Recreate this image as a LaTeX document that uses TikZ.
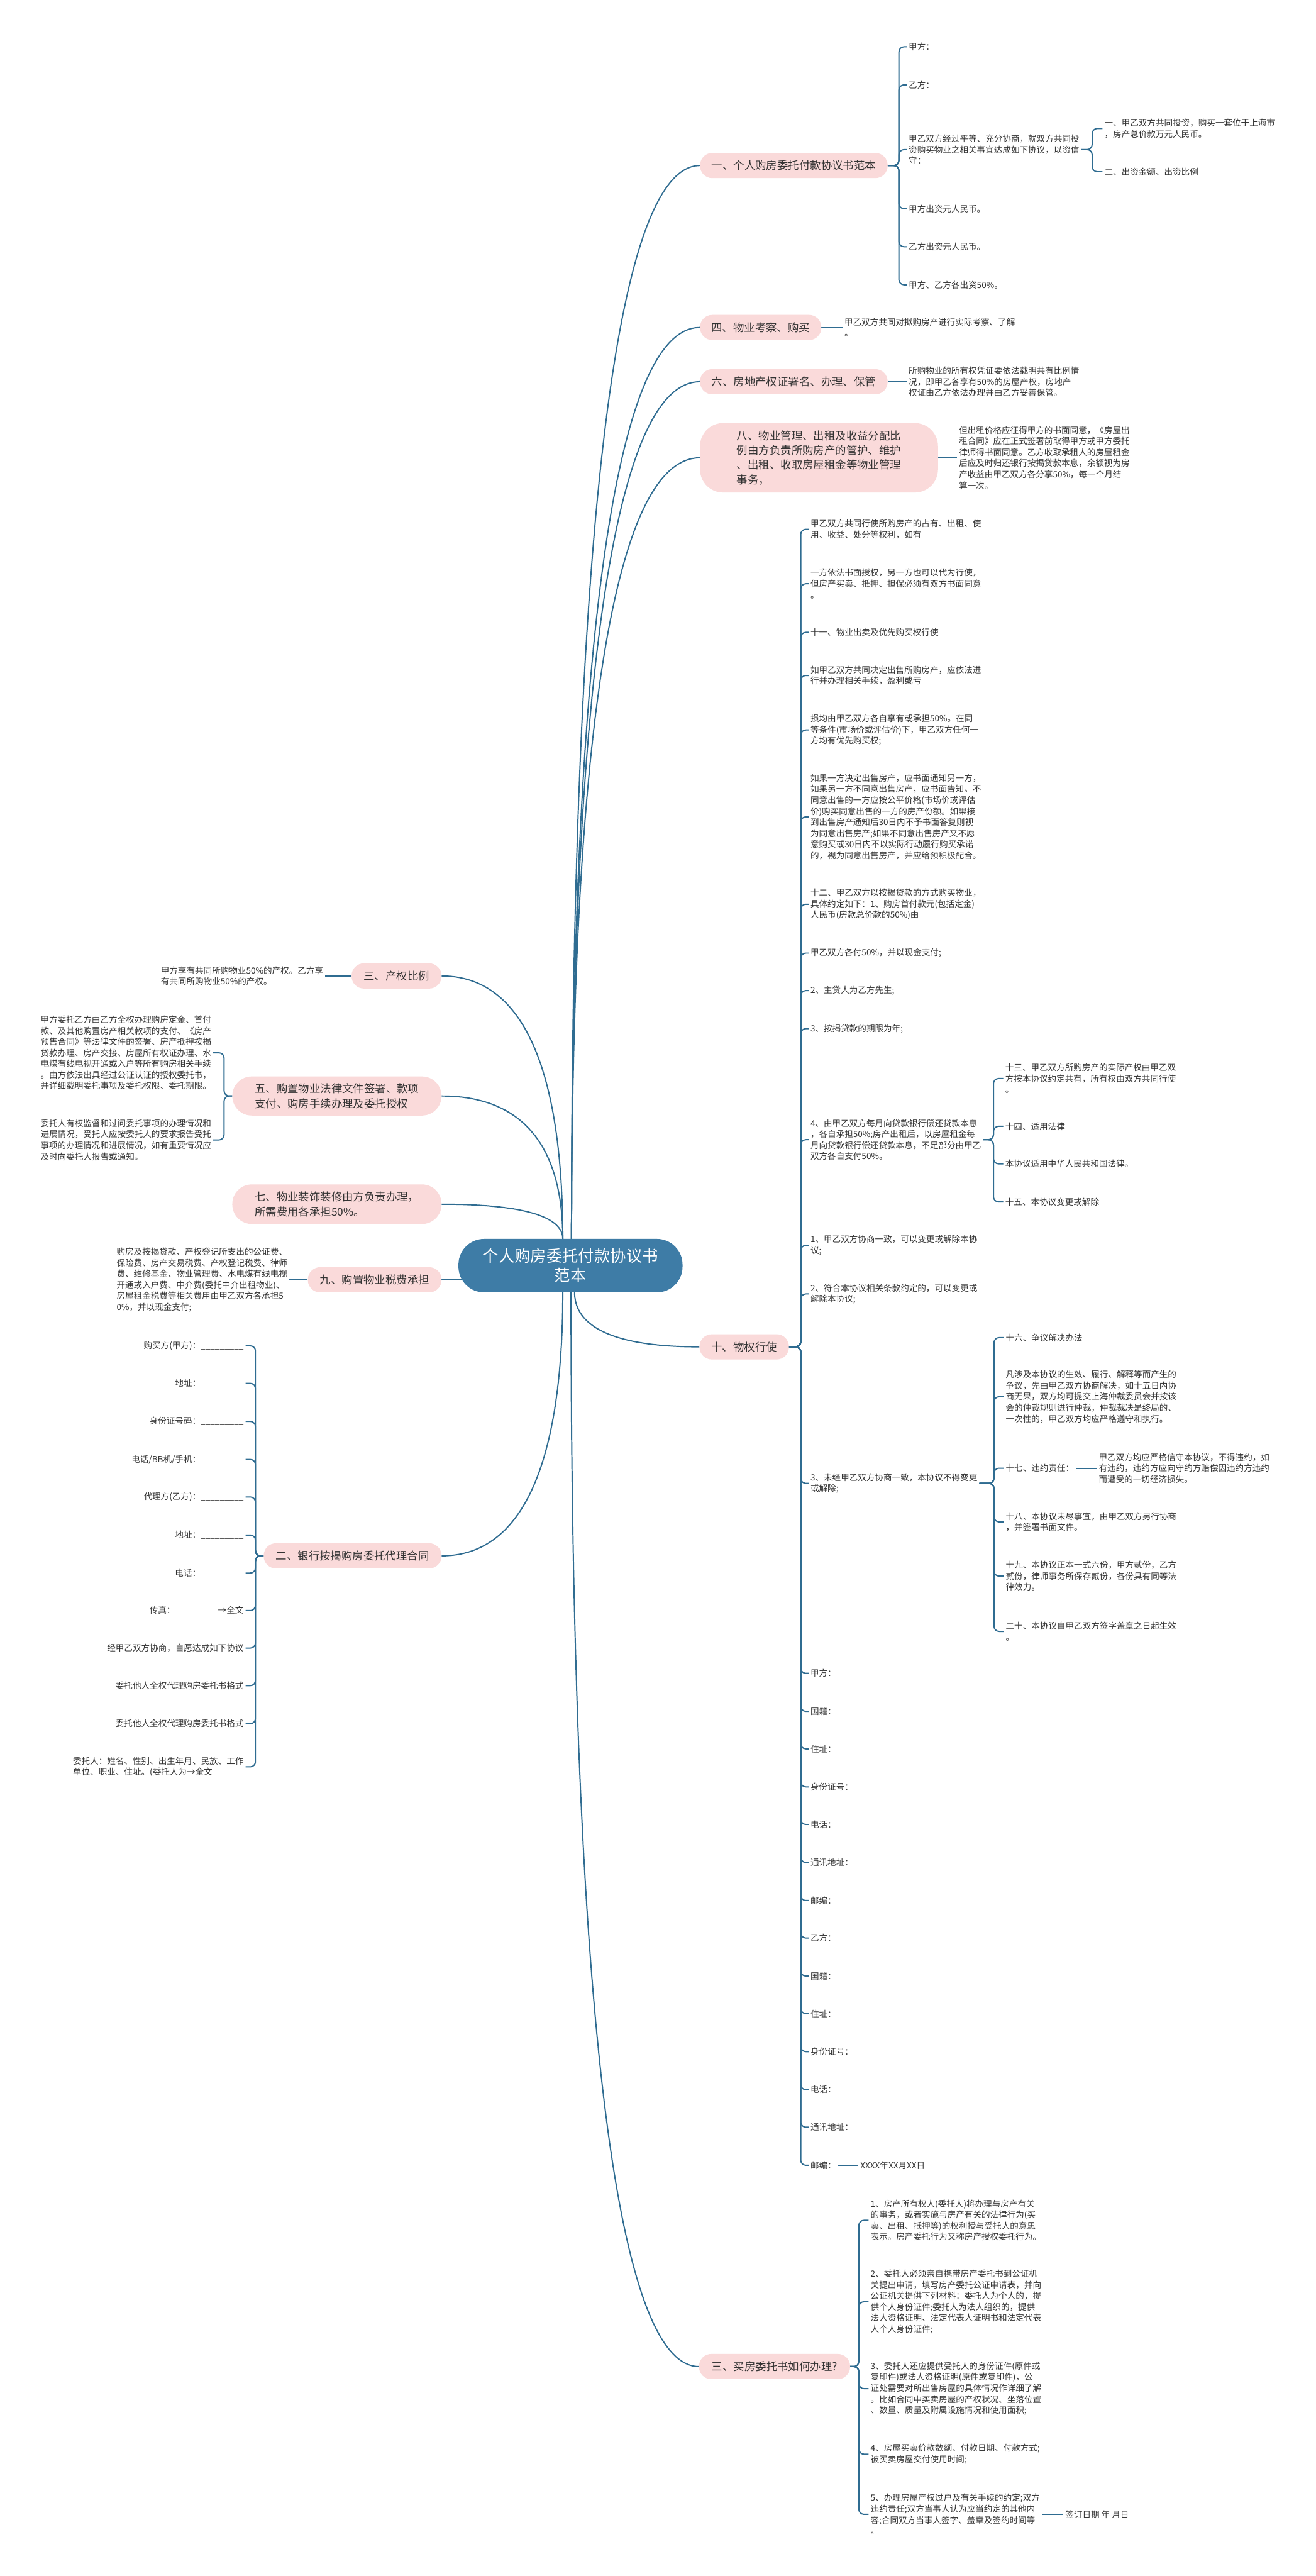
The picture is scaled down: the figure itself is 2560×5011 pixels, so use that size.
\documentclass[tikz,border=0pt]{standalone}
\usepackage{fontspec}
\setmainfont{Noto Sans CJK SC}
\usetikzlibrary{calc}
\pgfdeclarelayer{bg}
\pgfsetlayers{bg,main}
\definecolor{lnc}{HTML}{2F6C91}
\definecolor{cenc}{HTML}{3E7CA6}
\definecolor{pinkc}{HTML}{FADADA}
\definecolor{txtc}{HTML}{333333}
\newcommand\leaffont{\fontsize{16.6pt}{21.5pt}\selectfont}
\newcommand\brfont{\fontsize{21.3pt}{28.5pt}\selectfont}
\newcommand\cenfont{\fontsize{31pt}{37pt}\selectfont}
\newcommand\brR[3]{\draw[conn] (#1.east) -- (#1.east -| #3) |- (#2.west);}
\newcommand\brL[3]{\draw[conn] (#1.west) -- (#1.west -| #3) |- (#2.east);}
\newcommand\strR[2]{\draw[conn] (#1.east) -- (#2.west);}
\newcommand\strL[2]{\draw[conn] (#1.west) -- (#2.east);}
\newcommand\mmcurve[2]{\draw[conn] (#1) .. controls ($(#1)!0.5!(#1|-#2)$) and ($(#1|-#2)!0.2!(#2)$) .. (#2);}
\begin{document}
\begin{tikzpicture}[x=1pt,y=-1pt,
  conn/.style={draw=lnc, line width=2.4pt, rounded corners=10pt},
  leaf/.style={inner sep=0pt, outer sep=4pt, align=left, font=\leaffont, text=txtc},
  branch/.style={fill=pinkc, text=txtc, font=\brfont, inner sep=0pt, minimum height=49pt, rounded corners=24pt, align=center},
  central/.style={fill=cenc, text=white, font=\cenfont, inner sep=0pt, minimum width=436pt, minimum height=104pt, rounded corners=50pt, align=center}]
\begin{pgfonlayer}{bg}
\fill[white] (0,0) rectangle (2560,5011);
\end{pgfonlayer}
\useasboundingbox (0,0) rectangle (2560,5011);

% central
\node[central] (c) at (1110,2462) {个人购房委托付款协议书\\范本};

% right branches
\node[branch, minimum width=365pt] (b1) at (1544.5,322) {一、个人购房委托付款协议书范本};
\node[branch, minimum width=236pt] (b4) at (1480,637) {四、物业考察、购买};
\node[branch, minimum width=365pt] (b6) at (1544.5,742.5) {六、房地产权证署名、办理、保管};
\node[branch, minimum width=463pt, minimum height=135pt, rounded corners=45pt, align=left] (b8) at (1593.5,890.5) {八、物业管理、出租及收益分配比\\例由方负责所购房产的管护、维护\\、出租、收取房屋租金等物业管理\\事务，};
\node[branch, minimum width=174pt] (b10) at (1448,2620) {十、物权行使};
\node[branch, minimum width=294pt] (b3r) at (1507,4603.5) {三、买房委托书如何办理?};

% left branches
\node[branch, minimum width=175pt] (b3) at (771.5,1898.5) {三、产权比例};
\node[branch, minimum width=407pt, minimum height=76pt, rounded corners=38pt, align=left] (b5) at (655.5,2132) {五、购置物业法律文件签署、款项\\支付、购房手续办理及委托授权};
\node[branch, minimum width=407pt, minimum height=77pt, rounded corners=38pt, align=left] (b7) at (655.5,2342.5) {七、物业装饰装修由方负责办理，\\所需费用各承担50\%。};
\node[branch, minimum width=260pt] (b9) at (729,2489.5) {九、购置物业税费承担};
\node[branch, minimum width=346pt] (b2) at (686,3026.5) {二、银行按揭购房委托代理合同};

% bracket coordinates
\coordinate (k1) at (1749,0);
\coordinate (k1c) at (2125,0);
\coordinate (k10) at (1558,0);
\coordinate (k11) at (1933,0);
\coordinate (k14) at (1934,0);
\coordinate (k3r) at (1671,0);
\coordinate (k5) at (436,0);
\coordinate (k2) at (497,0);

% ---- leaves of 一
\node[leaf, anchor=west] (a1) at (1764,91) {甲方：};
\node[leaf, anchor=west] (a2) at (1764,165) {乙方：};
\node[leaf, anchor=west] (a3) at (1764,291) {甲乙双方经过平等、充分协商，就双方共同投\\资购买物业之相关事宜达成如下协议，以资信\\守：};
\node[leaf, anchor=west] (a4) at (1764,406) {甲方出资元人民币。};
\node[leaf, anchor=west] (a5) at (1764,480) {乙方出资元人民币。};
\node[leaf, anchor=west] (a6) at (1764,554) {甲方、乙方各出资50\%。};
\node[leaf, anchor=west] (a31) at (2145,250) {一、甲乙双方共同投资，购买一套位于上海市\\，房产总价款万元人民币。};
\node[leaf, anchor=west] (a32) at (2145,334) {二、出资金额、出资比例};

% ---- leaves of 四 六 八
\node[leaf, anchor=west] (d1) at (1639,637) {甲乙双方共同对拟购房产进行实际考察、了解\\。};
\node[leaf, anchor=west] (f1) at (1764,742.5) {所购物业的所有权凭证要依法载明共有比例情\\况，即甲乙各享有50\%的房屋产权，房地产\\权证由乙方依法办理并由乙方妥善保管。};
\node[leaf, anchor=west] (h1) at (1862,890.5) {但出租价格应征得甲方的书面同意，《房屋出\\租合同》应在正式签署前取得甲方或甲方委托\\律师得书面同意。乙方收取承租人的房屋租金\\后应及时归还银行按揭贷款本息，余额视为房\\产收益由甲乙双方各分享50\%，每一个月结\\算一次。};

% ---- leaves of 十
\node[leaf, anchor=west] (t1) at (1573,1029.5) {甲乙双方共同行使所购房产的占有、出租、使\\用、收益、处分等权利，如有};
\node[leaf, anchor=west] (t2) at (1573,1135.5) {一方依法书面授权，另一方也可以代为行使，\\但房产买卖、抵押、担保必须有双方书面同意\\。};
\node[leaf, anchor=west] (t3) at (1573,1230) {十一、物业出卖及优先购买权行使};
\node[leaf, anchor=west] (t4) at (1573,1314) {如甲乙双方共同决定出售所购房产，应依法进\\行并办理相关手续，盈利或亏};
\node[leaf, anchor=west] (t5) at (1573,1420) {损均由甲乙双方各自享有或承担50\%。在同\\等条件(市场价或评估价)下，甲乙双方任何一\\方均有优先购买权;};
\node[leaf, anchor=west] (t6) at (1573,1589) {如果一方决定出售房产，应书面通知另一方，\\如果另一方不同意出售房产，应书面告知。不\\同意出售的一方应按公平价格(市场价或评估\\价)购买同意出售的一方的房产份额。如果接\\到出售房产通知后30日内不予书面答复则视\\为同意出售房产;如果不同意出售房产又不愿\\意购买或30日内不以实际行动履行购买承诺\\的，视为同意出售房产，并应给预积极配合。};
\node[leaf, anchor=west] (t7) at (1573,1759) {十二、甲乙双方以按揭贷款的方式购买物业，\\具体约定如下：1、购房首付款元(包括定金)\\人民币(房款总价款的50\%)由};
\node[leaf, anchor=west] (t8) at (1573,1854) {甲乙双方各付50\%，并以现金支付;};
\node[leaf, anchor=west] (t9) at (1573,1927) {2、主贷人为乙方先生;};
\node[leaf, anchor=west] (t10) at (1573,2001) {3、按揭贷款的期限为年;};
\node[leaf, anchor=west] (t11) at (1573,2217) {4、由甲乙双方每月向贷款银行偿还贷款本息\\，各自承担50\%;房产出租后，以房屋租金每\\月向贷款银行偿还贷款本息，不足部分由甲乙\\双方各自支付50\%。};
\node[leaf, anchor=west] (t12) at (1573,2422.5) {1、甲乙双方协商一致，可以变更或解除本协\\议;};
\node[leaf, anchor=west] (t13) at (1573,2517) {2、符合本协议相关条款约定的，可以变更或\\解除本协议;};
\node[leaf, anchor=west] (t14) at (1573,2885.5) {3、未经甲乙双方协商一致，本协议不得变更\\或解除;};
\node[leaf, anchor=west] (t15) at (1573,3255) {甲方：};
\node[leaf, anchor=west] (t16) at (1573,3329) {国籍：};
\node[leaf, anchor=west] (t17) at (1573,3402) {住址：};
\node[leaf, anchor=west] (t18) at (1573,3476) {身份证号：};
\node[leaf, anchor=west] (t19) at (1573,3549) {电话：};
\node[leaf, anchor=west] (t20) at (1573,3623) {通讯地址：};
\node[leaf, anchor=west] (t21) at (1573,3697) {邮编：};
\node[leaf, anchor=west] (t22) at (1573,3770) {乙方：};
\node[leaf, anchor=west] (t23) at (1573,3844) {国籍：};
\node[leaf, anchor=west] (t24) at (1573,3917) {住址：};
\node[leaf, anchor=west] (t25) at (1573,3991) {身份证号：};
\node[leaf, anchor=west] (t26) at (1573,4065) {电话：};
\node[leaf, anchor=west] (t27) at (1573,4138) {通讯地址：};
\node[leaf, anchor=west] (t28) at (1573,4212) {邮编：};
\node[leaf, anchor=west] (t28a) at (1670,4212) {XXXX年XX月XX日};

% children of t11
\node[leaf, anchor=west] (u1) at (1952,2098) {十三、甲乙双方所购房产的实际产权由甲乙双\\方按本协议约定共有，所有权由双方共同行使\\。};
\node[leaf, anchor=west] (u2) at (1952,2191) {十四、适用法律};
\node[leaf, anchor=west] (u3) at (1952,2264) {本协议适用中华人民共和国法律。};
\node[leaf, anchor=west] (u4) at (1952,2338) {十五、本协议变更或解除};

% children of t14
\node[leaf, anchor=west] (v1) at (1953,2602) {十六、争议解决办法};
\node[leaf, anchor=west] (v2) at (1953,2717) {凡涉及本协议的生效、履行、解释等而产生的\\争议，先由甲乙双方协商解决，如十五日内协\\商无果，双方均可提交上海仲裁委员会并按该\\会的仲裁规则进行仲裁，仲裁裁决是终局的、\\一次性的，甲乙双方均应严格遵守和执行。};
\node[leaf, anchor=west] (v3) at (1953,2856) {十七、违约责任：};
\node[leaf, anchor=west] (v3a) at (2134,2856) {甲乙双方均应严格信守本协议，不得违约，如\\有违约，违约方应向守约方赔偿因违约方违约\\而遭受的一切经济损失。};
\node[leaf, anchor=west] (v4) at (1953,2960.5) {十八、本协议未尽事宜，由甲乙双方另行协商\\，并签署书面文件。};
\node[leaf, anchor=west] (v5) at (1953,3066) {十九、本协议正本一式六份，甲方贰份，乙方\\贰份，律师事务所保存贰份，各份具有同等法\\律效力。};
\node[leaf, anchor=west] (v6) at (1953,3173.5) {二十、本协议自甲乙双方签字盖章之日起生效\\。};

% ---- leaves of 三、买房委托书如何办理
\node[leaf, anchor=west] (r1) at (1690,4319) {1、房产所有权人(委托人)将办理与房产有关\\的事务，或者实施与房产有关的法律行为(买\\卖、出租、抵押等)的权利授与受托人的意思\\表示。房产委托行为又称房产授权委托行为。};
\node[leaf, anchor=west] (r2) at (1690,4477.5) {2、委托人必须亲自携带房产委托书到公证机\\关提出申请，填写房产委托公证申请表，并向\\公证机关提供下列材料：委托人为个人的，提\\供个人身份证件;委托人为法人组织的，提供\\法人资格证明、法定代表人证明书和法定代表\\人个人身份证件;};
\node[leaf, anchor=west] (r3) at (1690,4646.5) {3、委托人还应提供受托人的身份证件(原件或\\复印件)或法人资格证明(原件或复印件)，公\\证处需要对所出售房屋的具体情况作详细了解\\。比如合同中买卖房屋的产权状况、坐落位置\\、数量、质量及附属设施情况和使用面积;};
\node[leaf, anchor=west] (r4) at (1690,4774) {4、房屋买卖价款数额、付款日期、付款方式;\\被买卖房屋交付使用时间;};
\node[leaf, anchor=west] (r5) at (1690,4891) {5、办理房屋产权过户及有关手续的约定;双方\\违约责任;双方当事人认为应当约定的其他内\\容;合同双方当事人签字、盖章及签约时间等\\。};
\node[leaf, anchor=west] (r5a) at (2069,4891) {签订日期 年 月日};

% ---- left leaves
\node[leaf, anchor=west] (p3) at (309,1898.5) {甲方享有共同所购物业50\%的产权。乙方享\\有共同所购物业50\%的产权。};
\node[leaf, anchor=west] (p51) at (75,2048) {甲方委托乙方由乙方全权办理购房定金、首付\\款、及其他购置房产相关款项的支付、《房产\\预售合同》等法律文件的签署、房产抵押按揭\\贷款办理、房产交接、房屋所有权证办理、水\\电煤有线电视开通或入户等所有购房相关手续\\。由方依法出具经过公证认证的授权委托书，\\并详细载明委托事项及委托权限、委托期限。};
\node[leaf, anchor=west] (p52) at (75,2217.5) {委托人有权监督和过问委托事项的办理情况和\\进展情况，受托人应按委托人的要求报告受托\\事项的办理情况和进展情况，如有重要情况应\\及时向委托人报告或通知。};
\node[leaf, anchor=west] (p9) at (223,2489.5) {购房及按揭贷款、产权登记所支出的公证费、\\保险费、房产交易税费、产权登记税费、律师\\费、维修基金、物业管理费、水电煤有线电视\\开通或入户费、中介费(委托中介出租物业)、\\房屋租金税费等相关费用由甲乙双方各承担5\\0\%，并以现金支付;};

\node[leaf, anchor=east, align=right] (q1) at (478,2618) {购买方(甲方)：\_\_\_\_\_\_\_\_\_};
\node[leaf, anchor=east, align=right] (q2) at (478,2691) {地址：\_\_\_\_\_\_\_\_\_};
\node[leaf, anchor=east, align=right] (q3) at (478,2765) {身份证号码：\_\_\_\_\_\_\_\_\_};
\node[leaf, anchor=east, align=right] (q4) at (478,2839) {电话/BB机/手机：\_\_\_\_\_\_\_\_\_};
\node[leaf, anchor=east, align=right] (q5) at (478,2912) {代理方(乙方)：\_\_\_\_\_\_\_\_\_};
\node[leaf, anchor=east, align=right] (q6) at (478,2986) {地址：\_\_\_\_\_\_\_\_\_};
\node[leaf, anchor=east, align=right] (q7) at (478,3060) {电话：\_\_\_\_\_\_\_\_\_};
\node[leaf, anchor=east, align=right] (q8) at (478,3133) {传真：\_\_\_\_\_\_\_\_\_→全文};
\node[leaf, anchor=east, align=right] (q9) at (478,3206) {经甲乙双方协商，自愿达成如下协议};
\node[leaf, anchor=east, align=right] (q10) at (478,3279) {委托他人全权代理购房委托书格式};
\node[leaf, anchor=east, align=right] (q11) at (478,3353) {委托他人全权代理购房委托书格式};
\node[leaf, anchor=east, align=left] (q12) at (478,3437) {委托人：姓名、性别、出生年月、民族、工作\\单位、职业、住址。(委托人为→全文};

% ================= connectors
\begin{pgfonlayer}{bg}
\coordinate (sRT) at ([xshift=2pt]c.north);
\coordinate (sLT) at ([xshift=-15pt]c.north);
\coordinate (sRB) at ([xshift=8pt]c.south);
\coordinate (sRB2) at ([xshift=1pt]c.south);
\coordinate (sLB) at ([xshift=-15pt]c.south);
\mmcurve{sRT}{b1.west}
\mmcurve{sRT}{b4.west}
\mmcurve{sRT}{b6.west}
\mmcurve{sRT}{b8.west}
\mmcurve{sRB}{b10.west}
\mmcurve{sRB2}{b3r.west}
\mmcurve{sLT}{b3.east}
\mmcurve{sLT}{b5.east}
\mmcurve{sLT}{b7.east}
\mmcurve{sLB}{b2.east}
\draw[conn] (b9.east) -- (b9.east -| c.center);

% 一
\foreach \n in {a1,a2,a3,a4,a5,a6} {\brR{b1}{\n}{k1}}
\brR{a3}{a31}{k1c}
\brR{a3}{a32}{k1c}
% 四 六 八
\strR{b4}{d1}
\strR{b6}{f1}
\strR{b8}{h1}
% 十
\foreach \n in {t1,t2,t3,t4,t5,t6,t7,t8,t9,t10,t11,t12,t13,t14,t15,t16,t17,t18,t19,t20,t21,t22,t23,t24,t25,t26,t27,t28} {\brR{b10}{\n}{k10}}
\strR{t28}{t28a}
\foreach \n in {u1,u2,u3,u4} {\brR{t11}{\n}{k11}}
\foreach \n in {v1,v2,v3,v4,v5,v6} {\brR{t14}{\n}{k14}}
\strR{v3}{v3a}
% 三 买房
\foreach \n in {r1,r2,r3,r4,r5} {\brR{b3r}{\n}{k3r}}
\strR{r5}{r5a}
% left
\strL{b3}{p3}
\brL{b5}{p51}{k5}
\brL{b5}{p52}{k5}
\strL{b9}{p9}
\foreach \n in {q1,q2,q3,q4,q5,q6,q7,q8,q9,q10,q11,q12} {\brL{b2}{\n}{k2}}
\end{pgfonlayer}
\end{tikzpicture}
\end{document}
